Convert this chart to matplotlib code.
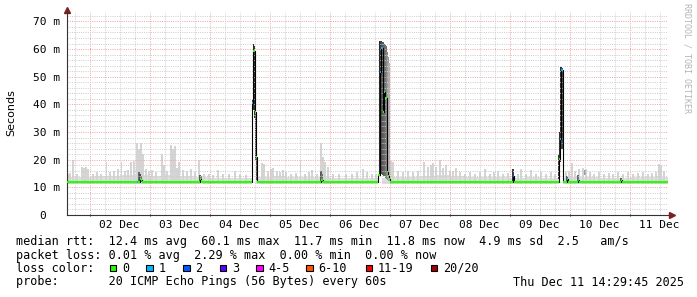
import numpy as np
import matplotlib
matplotlib.use("Agg")
import matplotlib.pyplot as plt
from matplotlib.patches import Rectangle
from matplotlib.ticker import FixedLocator

plt.rcParams['lines.scale_dashes'] = False
MONO = "DejaVu Sans Mono"

# time axis in hours since 02 Dec 00:00
t_start, t_end = -9.0, 231.4
day_labels = ["02 Dec", "03 Dec", "04 Dec", "05 Dec", "06 Dec",
              "07 Dec", "08 Dec", "09 Dec", "10 Dec", "11 Dec"]

# light smoke body, top per 6h slot (first slot starts at -12h), in ms
base_slot_start = -12.0
base_top = [13.6, 13.8, 14.0, 14.2, 14.4, 14.5, 14.2, 14.4, 14.2, 13.7,
            13.5, 13.5, 13.4, 13.9, 14.0, 13.8, 13.6, 13.7, 13.5, 13.4,
            13.5, 13.5, 13.9, 13.8, 14.2, 14.4, 14.0, 13.7, 13.8, 13.7,
            13.5, 13.7, 13.5, 13.5, 13.9, 13.8, 13.5, 13.5, 13.6, 13.7, 13.8]

# individual light smoke spikes (hour, top in ms)
spike_hours = [-8.6, -7.8, -6.6, -5.0, -3.0, -2.2, -1.4, -0.6, 1.4, 3.0, 4.6, 6.9,
               8.2, 9.8, 11.4, 12.9, 14.2, 15.4, 16.6, 17.8, 19.0, 19.8, 20.6, 21.4,
               22.6, 23.8, 25.0, 26.6, 29.0, 29.8, 31.0, 32.6, 33.4, 34.2, 35.0, 35.8,
               37.4, 39.0, 40.6, 42.2, 43.8, 45.8, 47.8, 49.4, 51.4, 53.4, 55.8, 58.2,
               60.2, 62.6, 69.0, 69.8, 71.4, 72.6, 73.4, 75.0, 76.2, 77.4, 78.6, 80.6,
               82.6, 84.5, 86.2, 87.8, 89.0, 91.0, 92.6, 93.4, 94.2, 95.4, 97.4, 99.8,
               102.6, 105.0, 107.0, 109.4, 111.0, 113.0, 114.6, 120.6, 121.4, 123.4, 125.4, 127.4,
               129.4, 131.4, 133.8, 135.4, 136.6, 137.4, 138.6, 140.2, 141.4, 142.6, 144.2, 145.4,
               146.6, 148.2, 150.2, 152.2, 154.2, 156.2, 158.2, 160.2, 161.8, 163.4, 165.4, 167.4,
               171.4, 172.6, 174.6, 176.6, 178.6, 180.6, 182.6, 184.6, 186.2, 190.6, 191.8, 193.0,
               194.2, 195.8, 197.4, 198.6, 200.2, 201.8, 203.8, 205.8, 207.8, 209.4, 211.4, 213.4,
               215.4, 217.4, 219.4, 221.4, 223.4, 225.0, 226.6, 227.8, 228.6, 229.8]
spike_top = [14.8, 15.2, 19.9, 15.0, 17.5, 17.0, 17.5, 16.5, 15.0, 15.5, 15.0, 19.0,
             15.5, 16.0, 16.5, 19.3, 16.0, 16.3, 19.3, 19.5, 25.9, 24.0, 26.0, 22.0,
             16.5, 16.0, 16.3, 15.5, 22.0, 18.0, 16.0, 25.3, 24.0, 25.0, 17.0, 19.3,
             16.3, 16.0, 16.5, 15.5, 19.9, 15.0, 14.8, 14.5, 16.3, 15.0, 14.8, 16.0,
             15.0, 14.5, 18.7, 18.5, 16.0, 16.5, 17.0, 16.0, 15.5, 16.3, 15.5, 15.0,
             15.2, 19.9, 15.0, 15.5, 16.3, 15.0, 26.0, 21.0, 19.3, 17.5, 15.0, 14.8,
             15.0, 14.8, 15.5, 16.5, 15.5, 15.0, 15.0, 19.5, 19.0, 16.0, 15.5, 16.0,
             15.5, 16.0, 19.3, 17.5, 18.0, 18.7, 17.5, 19.9, 17.0, 18.0, 16.0, 16.0,
             17.0, 15.5, 15.0, 15.5, 15.0, 15.5, 16.5, 15.0, 15.5, 16.0, 15.0, 15.2,
             15.0, 16.5, 15.0, 16.3, 15.0, 15.5, 15.0, 15.5, 15.0, 15.5, 16.0, 18.7,
             16.0, 16.5, 17.0, 16.5, 15.5, 15.0, 15.5, 15.0, 15.2, 14.8, 15.5, 15.0,
             15.5, 15.0, 15.2, 15.5, 15.0, 15.2, 15.5, 18.5, 18.0, 16.0]

# dense smoke columns around the latency events (hour, low, high, grey shade)
dark_hours = [19.8, 20.2, 20.6, 44.2, 44.6,
              65.2, 65.6, 66.0, 66.4, 66.8,
              92.6, 93.0,
              116.2, 116.6, 117.0, 117.4, 117.8, 118.2, 118.6, 119.0, 119.4, 119.8,
              169.4, 187.8, 188.2, 188.6, 189.0, 191.0, 195.4, 198.2, 212.6]
dark_lo = [12.0, 12.0, 12.0, 12.0, 12.0,
           38.0, 38.0, 35.0, 20.0, 12.5,
           12.0, 12.0,
           14.5, 15.0, 15.0, 14.5, 14.0, 14.0, 13.5, 13.0, 12.5, 12.2,
           12.0, 13.0, 19.0, 25.0, 24.0, 12.0, 12.0, 14.5, 12.0]
dark_hi = [15.5, 15.0, 14.0, 14.5, 14.0,
           42.0, 62.0, 61.0, 38.0, 22.0,
           16.0, 15.0,
           63.0, 63.0, 62.5, 62.5, 62.0, 61.5, 61.0, 59.0, 57.0, 55.0,
           16.5, 22.0, 30.0, 53.5, 53.0, 14.0, 14.5, 16.3, 13.5]
dark_shade = ["#6a6a6a", "#4a4a4a", "#7a7a7a", "#5a5a5a", "#7a7a7a",
              "#3a3a3a", "#2e2e2e", "#333333", "#3a3a3a", "#555555",
              "#5a5a5a", "#707070",
              "#2a2a2a", "#3a3a3a", "#505050", "#5a5a5a", "#606060", "#6a6a6a",
              "#747474", "#888888", "#9a9a9a", "#b0b0b0",
              "#3a3a3a", "#3a3a3a", "#333333", "#2e2e2e", "#4a4a4a", "#5a5a5a",
              "#6a6a6a", "#9a9a9a", "#5a5a5a"]

# no low smoke while the event is running
gap_start = [65.1, 115.5, 187.6]
gap_end = [66.6, 117.0, 189.4]

# median rtt samples (start hour, ms, loss class index)
med_hours = [-9.0, 19.0, 19.4, 20.2, 20.6, 21.0, 44.2, 44.6, 45.0,
             65.1, 65.5, 66.2, 66.5, 66.9, 92.6, 93.2,
             115.5, 116.2, 116.7, 117.3, 117.7, 118.2, 118.8, 119.2, 119.6, 120.2,
             169.4, 169.8, 187.8, 188.2, 188.6, 189.4, 191.0, 191.4, 195.4, 195.8,
             212.6, 213.0]
med_vals = [11.85, 11.8, 11.85, 12.9, 12.6, 11.85, 13.0, 12.4, 11.85,
            40.4, 59.2, 37.4, 21.0, 11.85, 12.6, 11.85,
            14.5, 51.8, 60.3, 37.4, 44.6, 42.2, 15.5, 14.0, 13.0, 11.85,
            14.0, 11.85, 20.2, 27.4, 52.3, 11.85, 13.0, 11.85, 12.5, 11.85,
            12.8, 11.85]
med_loss = [0, 1, 0, 0, 0, 0, 0, 0, 0,
            1, 0, 0, 0, 0, 0, 0,
            0, 1, 1, 0, 0, 0, 0, 0, 0, 0,
            2, 0, 0, 1, 1, 0, 1, 0, 1, 0,
            0, 0]

loss_labels = ["0", "1", "2", "3", "4-5", "6-10", "11-19", "20/20"]
loss_colors = ["#26ff00", "#00b8ff", "#0059ff", "#5e00ff",
               "#ff00ff", "#ff5500", "#ff0000", "#a10000"]

rtt_stats = [12.4, 60.1, 11.7, 11.8]   # avg max min now
rtt_sd = 4.9
rtt_ams = 2.5
loss_stats = [0.01, 2.29, 0.00, 0.00]
stamp = "Thu Dec 11 14:29:45 2025"

W, H = 697, 297
fig = plt.figure(figsize=(W / 100, H / 100), dpi=100)
fig.patch.set_facecolor("white")
ax = fig.add_axes([67 / W, (H - 215) / H, 601 / W, 203 / H])
ax.set_xlim(t_start, t_end)
ax.set_ylim(0, 73.4)

# smoke
slot_x = base_slot_start + 6.0 * np.arange(len(base_top))
ax.bar(slot_x, np.array(base_top) - 11.3, bottom=11.3, width=6.0, align="edge",
       color="#dedede", lw=0, zorder=1)
ax.bar(spike_hours, np.array(spike_top) - 11.3, bottom=11.3, width=0.45,
       color="#d4d4d4", lw=0, zorder=1.05)
ax.bar(gap_start, 6.0, bottom=10.5, width=np.array(gap_end) - np.array(gap_start),
       align="edge", color="white", lw=0, zorder=1.1)
ax.bar(dark_hours, np.array(dark_hi) - np.array(dark_lo), bottom=dark_lo, width=0.42,
       color=dark_shade, lw=0, zorder=1.2)

# grid (rrdtool draws it over the smoke)
ax.set_axisbelow("line")
ax.xaxis.set_major_locator(FixedLocator(np.arange(0, 217, 24)))
ax.xaxis.set_minor_locator(FixedLocator([h for h in np.arange(-6, 231, 6) if h % 24]))
ax.yaxis.set_major_locator(FixedLocator(np.arange(0, 71, 10)))
ax.yaxis.set_minor_locator(FixedLocator([v for v in np.arange(2, 73, 2) if v % 10]))
ax.grid(which="major", color="#f0a8a8", lw=0.7, linestyle=(0, (0.72, 0.9)))
ax.grid(which="minor", color="#cdcdcd", lw=0.7, linestyle=(0, (0.72, 0.9)))

# median: black connectors + loss coloured samples
ends = med_hours[1:] + [t_end]
ax.step(med_hours + [t_end], med_vals + [med_vals[-1]], where="post",
        color="black", lw=0.8, zorder=3)
ax.hlines(med_vals, med_hours, ends, colors=[loss_colors[k] for k in med_loss],
          lw=1.5, zorder=4)

# axes look
for s in ("top", "right"):
    ax.spines[s].set_visible(False)
for s in ("left", "bottom"):
    ax.spines[s].set_color("#333333")
    ax.spines[s].set_linewidth(0.8)
ax.tick_params(axis="x", which="major", length=2, direction="inout", color="#333333",
               labelbottom=False)
ax.tick_params(axis="y", which="major", length=0, pad=5)
ax.tick_params(which="minor", length=0)
ax.set_yticklabels([f"{v} m" if v else "0  " for v in range(0, 71, 10)],
                   family=MONO, fontsize=8)
for i, lbl in enumerate(day_labels):
    ax.annotate(lbl, xy=(12 + 24 * i, 0), xycoords=("data", "axes fraction"),
                xytext=(0, -10), textcoords="offset pixels", ha="center", va="center",
                family=MONO, fontsize=8)

arrow_c = "#801f1f"
ax.plot([1.0, 1.006], [0, 0], transform=ax.transAxes, clip_on=False, color="#333333", lw=0.8)
ax.plot([1.006], [0], marker=">", ms=4, color=arrow_c, transform=ax.transAxes, clip_on=False)
ax.plot([0], [1.012], marker="^", ms=4, color=arrow_c, transform=ax.transAxes, clip_on=False)

fig.text(11 / W, 1 - 113 / H, "Seconds", rotation=90, ha="center", va="center",
         fontsize=8, family="DejaVu Sans")
fig.text(687 / W, 1 - 58 / H, "RRDTOOL / TOBI OETIKER", rotation=270, ha="center",
         va="center", fontsize=6, family=MONO, color="#b4b4b4")

# legend lines
line1 = ("median rtt:  %.1f ms avg  %.1f ms max  %.1f ms min  %.1f ms now  %.1f ms sd  %.1f   am/s"
         % (rtt_stats[0], rtt_stats[1], rtt_stats[2], rtt_stats[3], rtt_sd, rtt_ams))
line2 = ("packet loss: %.2f %% avg  %.2f %% max  %.2f %% min  %.2f %% now"
         % tuple(loss_stats))
txt = dict(family=MONO, fontsize=8.5, va="center", ha="left")
fig.text(16 / W, 1 - 241 / H, line1, **txt)
fig.text(16 / W, 1 - 255 / H, line2, **txt)
fig.text(16 / W, 1 - 268 / H, "loss color:", **txt)
fig.text(16 / W, 1 - 282 / H, "probe:       20 ICMP Echo Pings (56 Bytes) every 60s", **txt)
fig.text(513 / W, 1 - 282 / H, stamp, **txt)

box_x = [109.5, 146, 183, 219.5, 256, 306, 365.5, 431]
for bx, lbl, col in zip(box_x, loss_labels, loss_colors):
    fig.add_artist(Rectangle((bx / W, 1 - 271 / H), 6.5 / W, 6.5 / H, transform=fig.transFigure,
                             facecolor=col, edgecolor="black", lw=0.8))
    fig.text((bx + 12.5) / W, 1 - 268 / H, lbl, **txt)

fig.savefig("out.png", dpi=100, facecolor="white")
